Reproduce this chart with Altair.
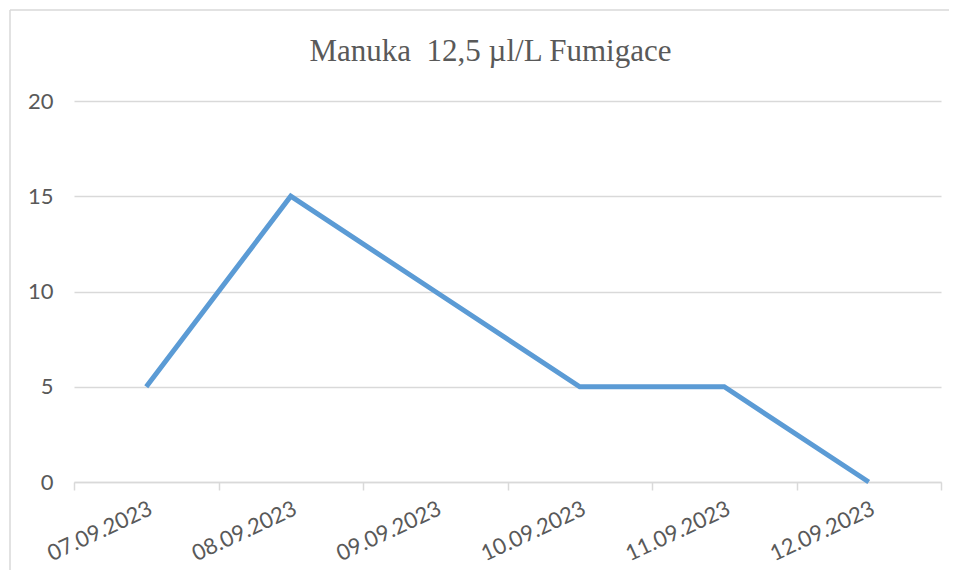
import altair as alt
import pandas as pd

dates = ["07.09.2023", "08.09.2023", "09.09.2023", "10.09.2023", "11.09.2023", "12.09.2023"]
values = [5, 15, 10, 5, 5, 0]
y_ticks = [0, 5, 10, 15, 20]
title_text = "Manuka\u00a0 12,5 µl/L Fumigace"

df = pd.DataFrame({"date": dates, "value": values})
W, H = 867, 381
GRAY = "#d9d9d9"
TXT = "#595959"

one = pd.DataFrame({"title": [title_text]})

border_left = alt.Chart(one).mark_rule(stroke=GRAY, strokeWidth=1.5).encode(
    x=alt.value(-64), y=alt.value(-91), y2=alt.value(H + 300)
)
border_top = alt.Chart(one).mark_rule(stroke=GRAY, strokeWidth=1.5).encode(
    x=alt.value(-64), x2=alt.value(W + 300), y=alt.value(-91)
)

title = alt.Chart(one).mark_text(
    font="Liberation Serif", fontSize=31, color=TXT, align="center", baseline="alphabetic"
).encode(
    x=alt.value(W / 2 - 17), y=alt.value(-40), text="title:N"
)

line = alt.Chart(df).mark_line(color="#5B9BD5", strokeWidth=5, strokeJoin="miter").encode(
    x=alt.X(
        "date:N",
        sort=dates,
        bandPosition=0.5,
        scale=alt.Scale(type="band", paddingInner=0, paddingOuter=0),
        axis=alt.Axis(
            title=None,
            tickBand="extent",
            ticks=True,
            tickSize=8,
            tickColor=GRAY,
            tickWidth=1.5,
            domainColor=GRAY,
            domainWidth=1.5,
            grid=False,
            labelAngle=-25,
            labelAlign="right",
            labelBaseline="top",
            labelPadding=8,
            labelFont="Lato",
            labelFontSize=22,
            labelColor=TXT,
        ),
    ),
    y=alt.Y(
        "value:Q",
        scale=alt.Scale(domain=[0, 20]),
        axis=alt.Axis(
            values=y_ticks,
            title=None,
            domain=False,
            ticks=False,
            grid=True,
            gridColor=GRAY,
            gridWidth=1.5,
            labelPadding=21,
            labelFont="Lato",
            labelFontSize=22,
            labelColor=TXT,
        ),
    ),
)

chart = alt.layer(border_left, border_top, title, line).properties(
    width=W,
    height=H,
    autosize=alt.AutoSizeParams(type="none"),
    padding={"left": 66, "top": 93, "right": 8, "bottom": 88},
).configure_view(stroke=None)

chart.save("out.html", embed_options={"renderer": "svg", "actions": False})
